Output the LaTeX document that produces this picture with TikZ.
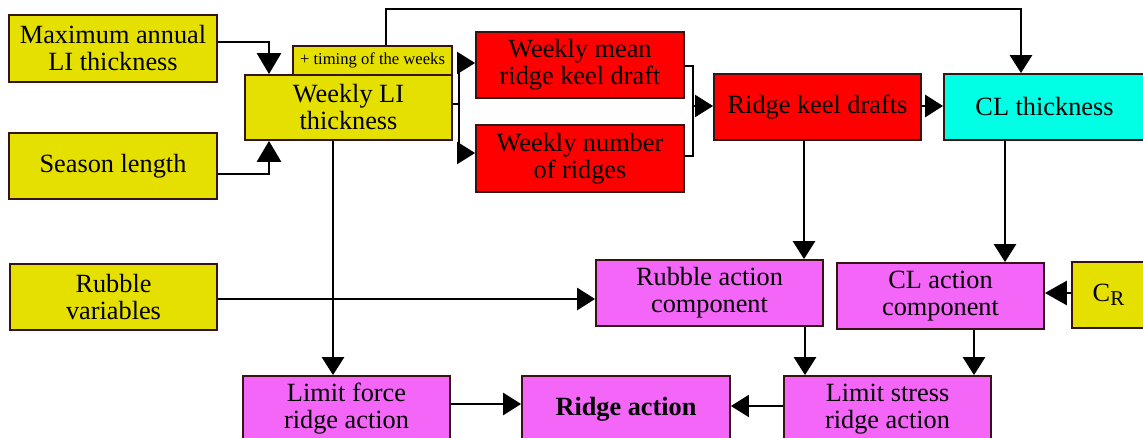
\documentclass[tikz,border=0pt]{standalone}
\usepackage{fontspec}
\setmainfont{Liberation Serif}
\usetikzlibrary{arrows.meta}
\definecolor{cyel}{RGB}{229,224,0}
\definecolor{cred}{RGB}{255,0,0}
\definecolor{ccyan}{RGB}{0,255,228}
\definecolor{cmag}{RGB}{243,102,248}
\definecolor{cbord}{RGB}{55,20,20}
\tikzset{
  box/.style={draw=cbord, line width=1.8pt, rectangle, inner sep=0pt, align=center,
    font=\fontsize{26.3}{27}\selectfont},
  conn/.style={line width=2.8pt, draw=black},
  thinconn/.style={line width=2pt, draw=black},
  tip/.style={-{Triangle[length=18pt,width=22pt]}},
  bigtip/.style={-{Triangle[length=21pt,width=24pt]}},
}
\begin{document}
\begin{tikzpicture}[x=1pt,y=-1pt]
\useasboundingbox (0,0) rectangle (1143,438);
\clip (0,0) rectangle (1143,438);
% boxes
\node[box, fill=cyel, minimum width=208pt, minimum height=67pt] (max) at (113,48.5) {Maximum annual\\LI thickness};
\node[box, fill=cyel, minimum width=208pt, minimum height=66pt] (season) at (113,166) {Season length};
\node[box, fill=cyel, minimum width=207pt, minimum height=65pt] (wli) at (348.5,107.5) {Weekly LI\\thickness};
\node[box, fill=cyel, minimum width=159pt, minimum height=29pt, line width=1.2pt, font=\fontsize{16.6}{17}\selectfont] (timing) at (372.5,60.5) {+ timing of the weeks};
\node[box, fill=cred, minimum width=208pt, minimum height=66pt] (wmean) at (580,65) {Weekly mean\\ridge keel draft};
\node[box, fill=cred, minimum width=208pt, minimum height=67pt] (wnum) at (580,158.5) {Weekly number\\of ridges};
\node[box, fill=cred, minimum width=207pt, minimum height=66pt] (rkd) at (817.5,107) {Ridge keel drafts};
\node[box, fill=ccyan, minimum width=201pt, minimum height=66pt] (clt) at (1044.5,107) {CL thickness};
\node[box, fill=cyel, minimum width=207pt, minimum height=66pt] (rubble) at (113.5,297) {Rubble\\variables};
\node[box, fill=cmag, minimum width=227pt, minimum height=66pt] (rac) at (709.5,293) {Rubble action\\component};
\node[box, fill=cmag, minimum width=207pt, minimum height=66pt] (clac) at (940.5,296) {CL action\\component};
\node[box, fill=cyel, minimum width=73pt, minimum height=66pt] (cr) at (1108.5,295) {C\raisebox{-0.3ex}{\fontsize{21}{21}\selectfont R}};
\node[box, fill=cmag, minimum width=207pt, minimum height=66pt] (lf) at (346.5,409) {Limit force\\ridge action};
\node[box, fill=cmag, minimum width=208pt, minimum height=66pt] (ra) at (626,409) {\bfseries Ridge action};
\node[box, fill=cmag, minimum width=207pt, minimum height=66pt] (ls) at (887.5,409) {Limit stress\\ridge action};
% connectors
\draw[conn, bigtip] ([yshift=6.5pt]max.east) -| ([xshift=-79.5pt]wli.north);
\draw[conn, bigtip] ([yshift=-8pt]season.east) -| ([xshift=-79.5pt]wli.south);
\coordinate (bm) at (459,104);
\coordinate (bt) at (459,63);
\coordinate (bb) at (459,153);
\draw[thinconn] ([yshift=3.5pt]wli.east) -- (bm);
\draw[thinconn] (bt) -- (bb);
\draw[thinconn, tip] (bt) -- (bt -| wmean.west);
\draw[thinconn, tip] (bb) -- (bb -| wnum.west);
\coordinate (kt) at (693,66);
\coordinate (kb) at (693,156);
\coordinate (km) at (693,106);
\draw[thinconn] ([yshift=-1pt]wmean.east) -- (kt) -- (kb) -- ([yshift=2.5pt]wnum.east);
\draw[thinconn, tip] (km) -- (km -| rkd.west);
\draw[conn, tip] ([yshift=1pt]rkd.east) -- ([yshift=1pt]clt.west);
\coordinate (tt) at (386,9);
\draw[conn, tip] ([xshift=13.5pt]timing.north) -- (tt) -| ([xshift=-23.5pt]clt.north);
\draw[conn, tip] ([xshift=-15.5pt]wli.south) -- ([xshift=-15.5pt]wli.south |- lf.north);
\draw[conn, tip] ([yshift=-2pt]rubble.east) -- ([yshift=-2pt]rubble.east -| rac.west);
\draw[conn, tip] ([xshift=-13.5pt]rkd.south) -- ([xshift=-13.5pt]rkd.south |- rac.north);
\draw[conn, tip] ([xshift=-39.5pt]clt.south) -- ([xshift=-39.5pt]clt.south |- clac.north);
\draw[conn, -{Triangle[length=22pt,width=24pt]}] ([yshift=2pt]cr.west) -- ([yshift=2pt]cr.west -| clac.east);
\draw[conn, tip] ([xshift=95.5pt]rac.south) -- ([xshift=95.5pt]rac.south |- ls.north);
\draw[conn, tip] ([xshift=33.5pt]clac.south) -- ([xshift=33.5pt]clac.south |- ls.north);
\draw[conn, tip] ([yshift=5pt]lf.east) -- ([yshift=5pt]lf.east -| ra.west);
\draw[thinconn, tip] ([yshift=3pt]ls.west) -- ([yshift=3pt]ls.west -| ra.east);
\end{tikzpicture}
\end{document}
